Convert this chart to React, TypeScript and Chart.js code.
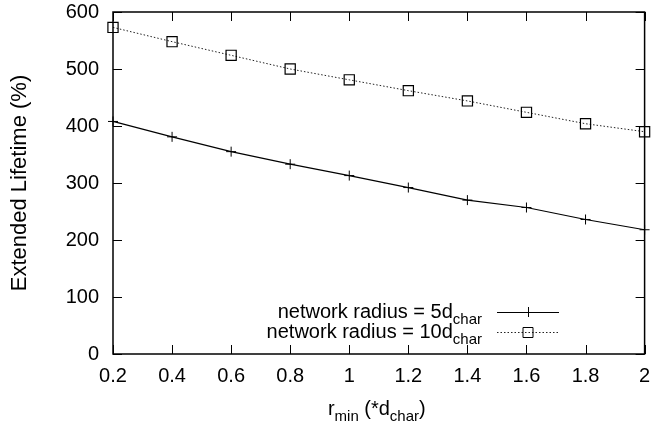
import React, { useEffect, useRef } from "react";
import { Chart, registerables } from "chart.js";

Chart.register(...registerables);

const xValues = [0.2, 0.4, 0.6, 0.8, 1.0, 1.2, 1.4, 1.6, 1.8, 2.0];
const radius5 = [408, 381, 355, 333, 313, 292, 270, 257, 236, 218];
const radius10 = [573, 548, 524, 500, 481, 462, 444, 424, 404, 390];
const xTickValues = [0.2, 0.4, 0.6, 0.8, 1.0, 1.2, 1.4, 1.6, 1.8, 2.0];
const yTickValues = [0, 100, 200, 300, 400, 500, 600];
const legendMain = ["network radius = 5d", "network radius = 10d"];
const legendSub = ["char", "char"];
const yTitle = "Extended Lifetime (%)";
const xTitleParts = [
  { t: "r", sub: false },
  { t: "min", sub: true },
  { t: " (*d", sub: false },
  { t: "char", sub: true },
  { t: ")", sub: false },
];

const FAMILY = '"Liberation Sans", Arial, Helvetica, sans-serif';
const MAIN = 20;
const SUBF = 15;

function drawSegments(ctx: CanvasRenderingContext2D, parts: { t: string; sub: boolean }[], x: number, y: number, align: "left" | "right" | "center") {
  const widths = parts.map((p) => {
    ctx.font = `${p.sub ? SUBF : MAIN}px ${FAMILY}`;
    return ctx.measureText(p.t).width;
  });
  const total = widths.reduce((a, b) => a + b, 0);
  let cx = align === "left" ? x : align === "right" ? x - total : x - total / 2;
  ctx.textAlign = "left";
  ctx.textBaseline = "alphabetic";
  parts.forEach((p, i) => {
    ctx.font = `${p.sub ? SUBF : MAIN}px ${FAMILY}`;
    ctx.fillText(p.t, cx, p.sub ? y + 6 : y);
    cx += widths[i];
  });
}

const framePlugin = {
  id: "gnuFrame",
  afterDatasetsDraw(chart: any) {
    const { ctx, chartArea: a, scales } = chart;
    ctx.save();
    ctx.strokeStyle = "#000";
    ctx.lineWidth = 1.5;
    ctx.strokeRect(a.left, a.top, a.right - a.left, a.bottom - a.top);
    ctx.lineWidth = 1;
    const L = 9;
    ctx.beginPath();
    xTickValues.forEach((v) => {
      const px = Math.round(scales.x.getPixelForValue(v)) + 0.5;
      ctx.moveTo(px, a.bottom);
      ctx.lineTo(px, a.bottom - L);
      ctx.moveTo(px, a.top);
      ctx.lineTo(px, a.top + L);
    });
    yTickValues.forEach((v) => {
      const py = Math.round(scales.y.getPixelForValue(v)) + 0.5;
      ctx.moveTo(a.left, py);
      ctx.lineTo(a.left + L, py);
      ctx.moveTo(a.right, py);
      ctx.lineTo(a.right - L, py);
    });
    ctx.stroke();

    // x axis title with subscripts
    ctx.fillStyle = "#000";
    drawSegments(ctx, xTitleParts, (a.left + a.right) / 2 - 2, 415, "center");

    // legend
    const textRight = 482;
    const x1 = 497;
    const x2 = 559;
    const mx = (x1 + x2) / 2;
    const rows = [312, 332];
    rows.forEach((ly, i) => {
      drawSegments(
        ctx,
        [
          { t: legendMain[i], sub: false },
          { t: legendSub[i], sub: true },
        ],
        textRight,
        ly + 6,
        "right"
      );
      ctx.beginPath();
      ctx.strokeStyle = i === 0 ? "#000" : "#222";
      ctx.setLineDash(i === 0 ? [] : [1.5, 2]);
      ctx.lineWidth = 1;
      ctx.moveTo(x1, ly + 0.5);
      ctx.lineTo(x2, ly + 0.5);
      ctx.stroke();
      ctx.setLineDash([]);
      ctx.beginPath();
      ctx.strokeStyle = "#000";
      if (i === 0) {
        ctx.moveTo(mx - 5, ly + 0.5);
        ctx.lineTo(mx + 5, ly + 0.5);
        ctx.moveTo(mx + 0.5, ly - 5);
        ctx.lineTo(mx + 0.5, ly + 5);
      } else {
        ctx.rect(mx - 5, ly - 4.5, 10, 10);
      }
      ctx.stroke();
    });
    ctx.restore();
  },
};

export default function App() {
  const ref = useRef<HTMLCanvasElement | null>(null);
  useEffect(() => {
    if (!ref.current) return;
    Chart.defaults.font.family = FAMILY;
    Chart.defaults.color = "#000";
    const chart = new Chart(ref.current, {
      type: "line",
      data: {
        labels: xValues,
        datasets: [
          {
            label: legendMain[0] + legendSub[0],
            data: xValues.map((x, i) => ({ x, y: radius5[i] })),
            borderColor: "#000",
            borderWidth: 1.2,
            pointStyle: "cross",
            pointRadius: 5,
            pointBorderWidth: 1,
            pointBorderColor: "#000",
            pointBackgroundColor: "rgba(0,0,0,0)",
            tension: 0,
            clip: false as any,
          },
          {
            label: legendMain[1] + legendSub[1],
            data: xValues.map((x, i) => ({ x, y: radius10[i] })),
            borderColor: "#222",
            borderWidth: 1,
            borderDash: [1.5, 2],
            pointStyle: "rect",
            pointRadius: 7.2,
            pointBorderWidth: 1.2,
            pointBorderColor: "#000",
            pointBackgroundColor: "rgba(0,0,0,0)",
            tension: 0,
            clip: false as any,
          },
        ],
      },
      options: {
        animation: false,
        responsive: false,
        maintainAspectRatio: false,
        layout: { padding: { top: 12, right: 7, left: 0, bottom: 0 } },
        plugins: { legend: { display: false }, tooltip: { enabled: false }, title: { display: false } },
        scales: {
          x: {
            type: "linear",
            min: 0.2,
            max: 2,
            afterFit: (s: any) => {
              s.height = 76;
              s.paddingLeft = 0;
              s.paddingRight = 0;
            },
            afterBuildTicks: (s: any) => {
              s.ticks = xTickValues.map((v) => ({ value: v }));
            },
            ticks: {
              font: { size: MAIN, family: FAMILY },
              color: "#000",
              padding: 10,
              maxRotation: 0,
              autoSkip: false,
              callback: (v: any) => String(Math.round(Number(v) * 10) / 10),
            },
            grid: { display: false, drawTicks: false },
            border: { display: false },
          },
          y: {
            type: "linear",
            min: 0,
            max: 600,
            afterFit: (s: any) => {
              s.width = 113;
              s.paddingTop = 0;
              s.paddingBottom = 0;
            },
            afterBuildTicks: (s: any) => {
              s.ticks = yTickValues.map((v) => ({ value: v }));
            },
            ticks: {
              font: { size: MAIN, family: FAMILY },
              color: "#000",
              padding: 14,
              autoSkip: false,
            },
            grid: { display: false, drawTicks: false },
            border: { display: false },
            title: {
              display: true,
              text: yTitle,
              font: { size: 22, family: FAMILY },
              color: "#000",
              padding: { top: 7, bottom: 0 },
            },
          },
        },
      },
      plugins: [framePlugin],
    });
    return () => chart.destroy();
  }, []);
  return (
    <div style={{ position: "fixed", left: 0, top: 0, width: 653, height: 430, background: "#fff" }}>
      <canvas ref={ref} width={653} height={430} style={{ width: 653, height: 430, display: "block" }} />
    </div>
  );
}
